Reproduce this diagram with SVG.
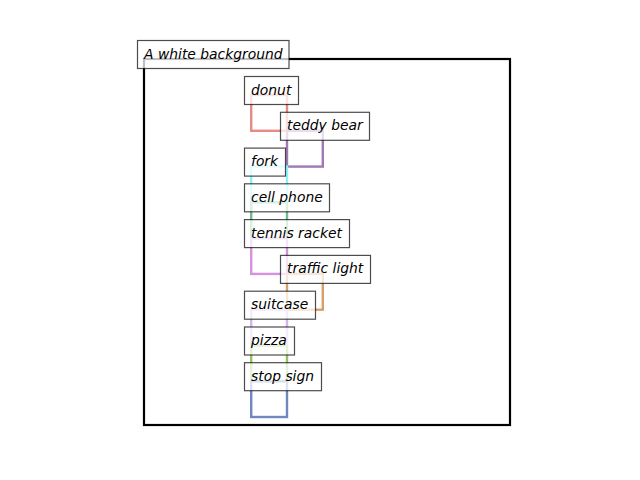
<svg xmlns="http://www.w3.org/2000/svg" width="640" height="480" viewBox="0 0 640 480">
<style>
.bb{fill:none;stroke-width:2.4}
.lb{fill:#fff;fill-opacity:0.75;stroke:#000;stroke-opacity:0.7;stroke-width:1.2}
.t{font-family:"DejaVu Sans",sans-serif;font-style:oblique;font-size:13.89px;fill:#000}
</style>
<rect width="640" height="480" fill="#fff"/>
<g id="connectors">
<rect x="144" y="59" width="366" height="366" fill="none" stroke="#000" stroke-width="2.2"/>
<rect class="bb" x="251.2" y="95" width="35.8" height="35.8" stroke="#e88a84"/>
<rect class="bb" x="287" y="130.8" width="35.8" height="35.8" stroke="#9f78b4"/>
<rect class="bb" x="251.2" y="166.6" width="35.8" height="35.8" stroke="#88f4f8"/>
<rect class="bb" x="251.2" y="202.3" width="35.8" height="35.8" stroke="#6cbc8c"/>
<rect class="bb" x="251.2" y="238.1" width="35.8" height="35.8" stroke="#d890e0"/>
<rect class="bb" x="287" y="273.9" width="35.8" height="35.8" stroke="#d6a068"/>
<rect class="bb" x="251.2" y="309.7" width="35.8" height="35.8" stroke="#d6b4f0"/>
<rect class="bb" x="251.2" y="345.5" width="35.8" height="35.8" stroke="#94c460"/>
<rect class="bb" x="251.2" y="381.2" width="35.8" height="35.8" stroke="#7088c0"/>
</g>
<g id="bg"><rect class="lb" x="137.5" y="40.5" width="151.5" height="28"/><text class="t" x="144" y="58.5">A white background</text></g>
<g id="donut"><rect class="lb" x="244.5" y="76.5" width="54" height="28"/><text class="t" x="251" y="94.5">donut</text></g>
<g id="teddy"><rect class="lb" x="280.5" y="112.3" width="89" height="28"/><text class="t" x="287" y="130.3">teddy bear</text></g>
<g id="fork"><rect class="lb" x="244.5" y="148.1" width="41" height="28"/><text class="t" x="251" y="166.1">fork</text></g>
<g id="cellphone"><rect class="lb" x="244.5" y="183.8" width="85" height="28"/><text class="t" x="251" y="201.8">cell phone</text></g>
<g id="tennis"><rect class="lb" x="244.5" y="219.6" width="105" height="28"/><text class="t" x="251" y="237.6">tennis racket</text></g>
<g id="traffic"><rect class="lb" x="280.5" y="255.4" width="90" height="28"/><text class="t" x="287" y="273.4">traffic light</text></g>
<g id="suitcase"><rect class="lb" x="244.5" y="291.2" width="71" height="28"/><text class="t" x="251" y="309.2">suitcase</text></g>
<g id="pizza"><rect class="lb" x="244.5" y="327" width="50" height="28"/><text class="t" x="251" y="345">pizza</text></g>
<g id="stopsign"><rect class="lb" x="244.5" y="362.7" width="77" height="28"/><text class="t" x="251" y="380.7">stop sign</text></g>
</svg>
